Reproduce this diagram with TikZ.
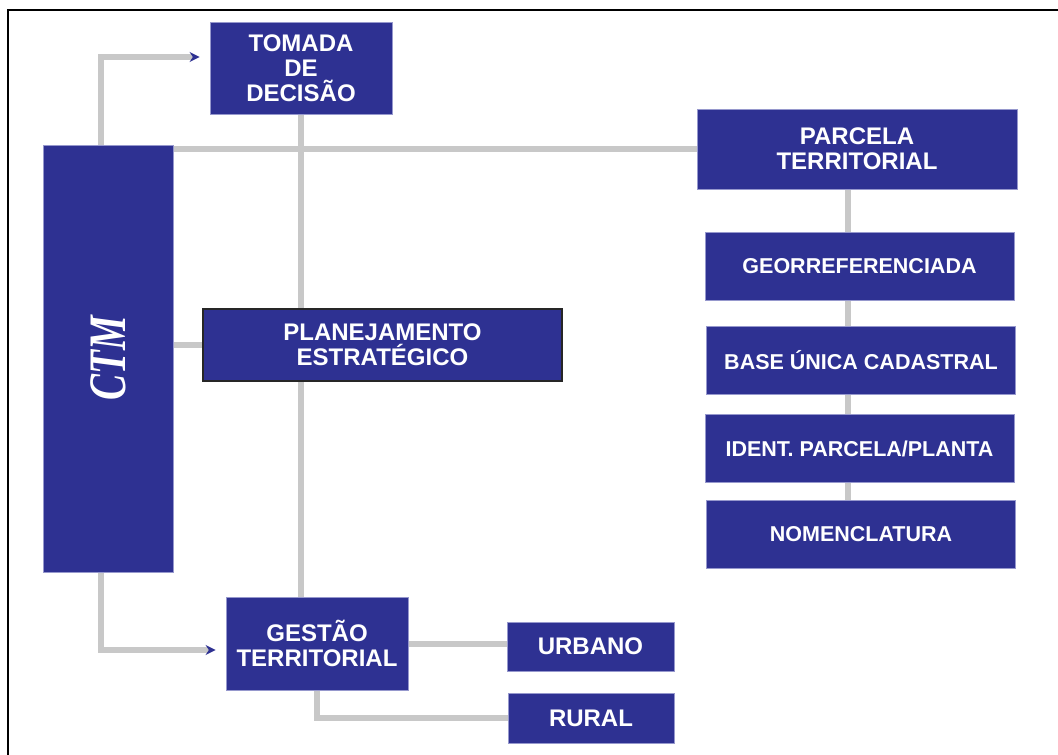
\documentclass[tikz,border=0pt]{standalone}
\usepackage{fontspec}
\setmainfont{Liberation Sans}
\newfontfamily\ctmserif{Liberation Serif}
\usepackage{tikz}
\usetikzlibrary{arrows.meta, backgrounds}
\definecolor{clrBox}{RGB}{46,49,146}
\definecolor{clrEdge}{RGB}{150,152,205}
\definecolor{clrLink}{RGB}{200,200,200}

\begin{document}
\begin{tikzpicture}[
  x=1pt, y=-1pt,
  box/.style={
    rectangle, fill=clrBox, draw=clrEdge, line width=0.8pt,
    text=white, align=center, inner sep=0pt,
    font=\fontsize{24}{25}\selectfont\bfseries
  },
  rbox/.style={box, minimum width=309pt, minimum height=68pt,
    font=\fontsize{21.5}{22}\selectfont\bfseries},
  pbox/.style={box, draw=black!85, line width=1.5pt},
  link/.style={draw=clrLink, line width=6pt},
  arrow/.style={link, -{Stealth[length=10pt, width=10pt, color=clrBox]},
    shorten >=10pt}
]
\useasboundingbox (0,0) rectangle (1058,755);

% frame (cut at the right and bottom)
\draw[line width=2.5pt] (8,755) -- (8,10) -- (1058,10);

\node[box, minimum width=130pt, minimum height=427pt] (ctm) at (108,358.5)
      {\rotatebox{90}{\scalebox{1}[1.35]{\ctmserif\bfseries\itshape\fontsize{39}{39}\selectfont CTM}}};

\node[box, minimum width=182pt, minimum height=92pt]  (tomada) at (301,68)
      {TOMADA\\DE\\DECISÃO};
\node[pbox, minimum width=359pt, minimum height=72pt] (plan)   at (382.5,345)
      {PLANEJAMENTO\\ESTRATÉGICO};
\node[box, minimum width=182pt, minimum height=93pt]  (gestao) at (317,643.5)
      {GESTÃO\\TERRITORIAL};
\node[box, minimum width=167pt, minimum height=49pt]  (urbano) at (590.5,646.5)
      {URBANO};
\node[box, minimum width=166pt, minimum height=50pt]  (rural)  at (591,718)
      {RURAL};

\node[box, minimum width=320pt, minimum height=80pt]  (parcela) at (857,149)
      {PARCELA\\TERRITORIAL};
\node[rbox] (geo)   at (859.5,266.5) {GEORREFERENCIADA};
\node[rbox] (base)  at (861,360)     {BASE ÚNICA CADASTRAL};
\node[rbox] (ident) at (859.5,448.5) {IDENT. PARCELA/PLANTA};
\node[rbox] (nomen) at (861,534)     {NOMENCLATURA};

\begin{scope}[on background layer]
  \draw[arrow] ([xshift=-7pt]ctm.north) |- ([yshift=11pt]tomada.west);
  \draw[arrow] ([xshift=-7pt]ctm.south) |- ([yshift=-6.5pt]gestao.west);
  \draw[link] (ctm.east |- parcela.west) -- (parcela.west);
  \draw[link] (ctm.east |- plan.west) -- (plan.west);
  \draw[link] (tomada.south) -- (tomada.south |- plan.north);
  \draw[link] (tomada.south |- plan.south) -- (tomada.south |- gestao.north);
  \draw[link] (gestao.east) -- (gestao.east -| urbano.west);
  \draw[link] (gestao.south) |- (rural.west);
  \coordinate (spine) at ([xshift=-9pt]parcela.south);
  \foreach \a/\b in {parcela/geo, geo/base, base/ident, ident/nomen}
    \draw[link] (spine |- \a.south) -- (spine |- \b.north);
\end{scope}

\end{tikzpicture}
\end{document}
